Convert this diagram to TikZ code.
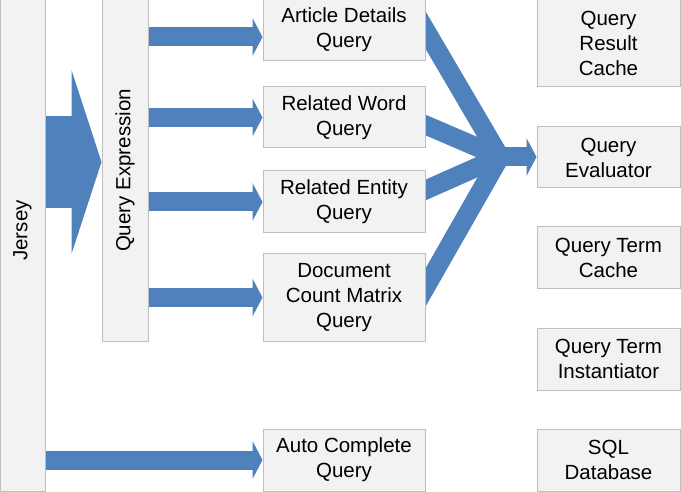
\documentclass[tikz,border=0pt]{standalone}
\usepackage{fontspec}
\setmainfont{Liberation Sans}
\usepackage{tikz}
\usetikzlibrary{arrows.meta,backgrounds,calc,positioning}

\definecolor{flowblue}{HTML}{4F81BD}
\definecolor{boxfill}{HTML}{F2F2F2}
\definecolor{boxline}{HTML}{BFBFBF}

\tikzset{
  box/.style={draw=boxline, fill=boxfill, line width=1pt, inner sep=0pt, align=center,
    font=\fontsize{20.5}{25}\selectfont},
  query/.style={box, minimum width=162pt},
  service/.style={box, minimum width=143pt},
  flow/.style={flowblue, line width=19pt, -{Triangle[length=10pt,width=38pt,line width=0pt]}},
  bigflow/.style={flowblue, line width=92pt, -{Triangle[length=30pt,width=184pt,line width=0pt]}},
  feed/.style={flowblue, line width=19pt, line cap=round},
}

\begin{document}
\begin{tikzpicture}[x=1pt, y=-1pt]
      \useasboundingbox (0,0) rectangle (681,492);
      % front end
      \node [box, minimum width=45pt, minimum height=521pt] (jersey) at (22.5,230.5) {\rotatebox{90}{Jersey}};
      \node [box, minimum width=46pt, minimum height=341pt] (qexpr) at (125,170.5) {\rotatebox{90}{Query Expression}};
      % queries
      \node [query, minimum height=62pt] (article)   at (344,30)    {Article Details\\Query};
      \node [query, minimum height=61pt] (word)      at (344,117.5) {Related Word\\Query};
      \node [query, minimum height=62pt] (entity)    at (344,202)   {Related Entity\\Query};
      \node [query, minimum height=87pt] (docmatrix) at (344,297.5) {Document\\Count Matrix\\Query};
      \node [query, minimum height=62pt] (auto)      at (344,460)   {Auto Complete\\Query};
      % back end
      \node [service, minimum height=88pt] (qcache) at (608.5,43)    {Query\\Result\\Cache};
      \node [service, minimum height=61pt] (qeval)  at (608.5,157.5) {Query\\Evaluator};
      \node [service, minimum height=62pt] (tcache) at (608.5,258)   {Query Term\\Cache};
      \node [service, minimum height=62pt] (tinst)  at (608.5,359)   {Query Term\\Instantiator};
      \node [service, minimum height=62pt] (sqldb)  at (608.5,460)   {SQL\\Database};
      % arrows
      \coordinate (jin) at (0,162);
      \coordinate (artin) at ([yshift=-7pt]article.west);
      \coordinate (merge) at (500,157);
      \draw [bigflow] (jersey.east |- jin) -- (qexpr.west |- jin);
      \draw [flow] (qexpr.east |- artin) -- (artin);
      \foreach \qry in {word, entity, docmatrix}
        \draw [flow] (qexpr.east |- \qry.west) -- (\qry.west);
      \draw [flow] (jersey.east |- auto.west) -- (auto.west);
      \begin{scope}[on background layer]
        \foreach \qry/\dy in {article/0, word/-7.5, entity/12, docmatrix/10}
          \draw [feed] ($([yshift=\dy pt]\qry.east)!-20pt!(merge)$) -- (merge);
      \end{scope}
      \draw [flow] (merge) -- (qeval.west |- merge);
\end{tikzpicture}
\end{document}
